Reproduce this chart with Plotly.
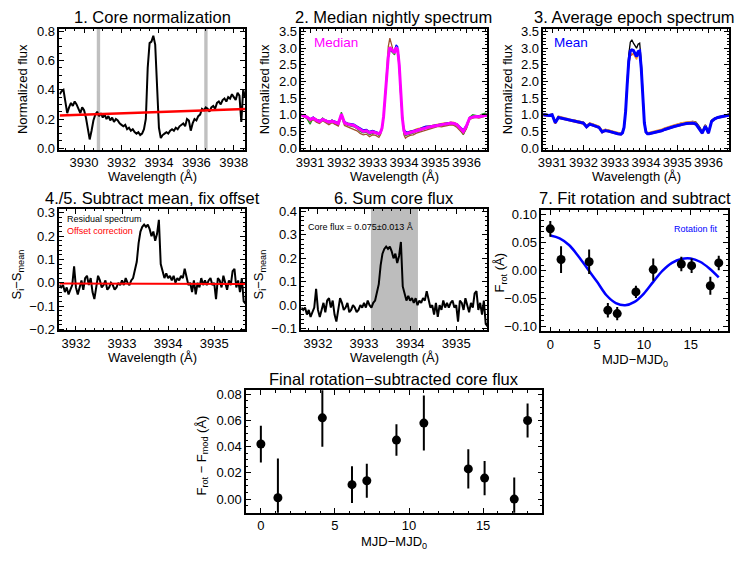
import plotly.graph_objects as go

W, H = 740, 561
FONT = "Liberation Sans, Arial, sans-serif"

# ---------------- Panel 1: core normalization ----------------
p1_wl = [3928.7, 3928.8, 3928.9, 3929.0, 3929.1, 3929.2, 3929.3, 3929.4, 3929.5, 3929.6,
         3929.7, 3929.8, 3929.9, 3930.0, 3930.1, 3930.2, 3930.3, 3930.4, 3930.5, 3930.6,
         3930.7, 3930.8, 3930.9, 3931.0, 3931.1, 3931.2, 3931.3, 3931.4, 3931.5, 3931.6,
         3931.7, 3931.8, 3931.9, 3932.0, 3932.1, 3932.2, 3932.3, 3932.4, 3932.5, 3932.6,
         3932.7, 3932.8, 3932.9, 3933.0, 3933.1, 3933.2, 3933.3, 3933.4, 3933.5, 3933.6,
         3933.7, 3933.8, 3933.9, 3934.0, 3934.1, 3934.2, 3934.3, 3934.4, 3934.5, 3934.6,
         3934.7, 3934.8, 3934.9, 3935.0, 3935.1, 3935.2, 3935.3, 3935.4, 3935.5, 3935.6,
         3935.7, 3935.8, 3935.9, 3936.0, 3936.1, 3936.2, 3936.3, 3936.4, 3936.5, 3936.6,
         3936.7, 3936.8, 3936.9, 3937.0, 3937.1, 3937.2, 3937.3, 3937.4, 3937.5, 3937.6,
         3937.7, 3937.8, 3937.9, 3938.0, 3938.1, 3938.2, 3938.3, 3938.4, 3938.5, 3938.6]
p1_flux = [0.37, 0.39, 0.40, 0.30, 0.24, 0.28, 0.31, 0.29, 0.32, 0.30,
           0.27, 0.24, 0.28, 0.26, 0.21, 0.14, 0.06, 0.12, 0.19, 0.23,
           0.25, 0.22, 0.24, 0.21, 0.23, 0.20, 0.22, 0.19, 0.21, 0.18,
           0.20, 0.19, 0.17, 0.16, 0.15, 0.16, 0.13, 0.14, 0.12, 0.13,
           0.11, 0.10, 0.11, 0.09, 0.10, 0.13, 0.20, 0.55, 0.72, 0.73,
           0.77, 0.71, 0.42, 0.14, 0.07, 0.09, 0.10, 0.11, 0.10, 0.12,
           0.13, 0.12, 0.14, 0.13, 0.15, 0.16, 0.17, 0.15, 0.20, 0.19,
           0.12, 0.17, 0.20, 0.19, 0.22, 0.23, 0.27, 0.26, 0.28, 0.27,
           0.25, 0.28, 0.29, 0.27, 0.31, 0.32, 0.30, 0.33, 0.34, 0.32,
           0.35, 0.34, 0.37, 0.35, 0.33, 0.38, 0.36, 0.18, 0.40, 0.35]
cont_wl = [3928.7, 3938.6]
cont_val = [0.224, 0.268]
norm_windows = [[3930.68, 3930.86], [3936.42, 3936.60]]

# ---------------- Panels 2 & 3: nightly / epoch spectra ----------------
ep_wl = [3930.7, 3930.8, 3930.9, 3931.0, 3931.1, 3931.2, 3931.3, 3931.4, 3931.5, 3931.6,
         3931.7, 3931.8, 3931.9, 3932.0, 3932.1, 3932.2, 3932.3, 3932.4, 3932.5, 3932.6,
         3932.7, 3932.8, 3932.9, 3933.0, 3933.1, 3933.2, 3933.25, 3933.3, 3933.35, 3933.4,
         3933.45, 3933.5, 3933.55, 3933.6, 3933.65, 3933.7, 3933.75, 3933.8, 3933.85, 3933.9,
         3933.95, 3934.0, 3934.05, 3934.1, 3934.2, 3934.3, 3934.4, 3934.5, 3934.6, 3934.7,
         3934.8, 3934.9, 3935.0, 3935.1, 3935.2, 3935.3, 3935.4, 3935.5, 3935.6, 3935.7,
         3935.8, 3935.9, 3936.0, 3936.1, 3936.2, 3936.3, 3936.4, 3936.5, 3936.6, 3936.7]

night_green = [1.03, 0.95, 0.88, 0.72, 0.92, 0.80, 0.78, 0.90, 0.80, 0.74,
               0.84, 0.72, 0.70, 1.08, 0.74, 0.68, 0.66, 0.64, 0.58, 0.50,
               0.46, 0.48, 0.40, 0.45, 0.44, 0.38, 0.44, 0.58, 0.92, 1.45,
               2.15, 2.70, 2.95, 2.88, 2.85, 2.80, 2.98, 2.92, 2.45, 1.55,
               0.85, 0.46, 0.38, 0.40, 0.42, 0.45, 0.50, 0.52, 0.55, 0.60,
               0.60, 0.62, 0.65, 0.68, 0.67, 0.70, 0.71, 0.73, 0.72, 0.66,
               0.55, 0.40, 0.62, 0.92, 1.00, 0.98, 0.96, 1.02, 1.05, 1.00]
night_brown = [0.98, 0.93, 0.90, 0.80, 0.86, 0.78, 0.74, 0.82, 0.76, 0.70,
               0.76, 0.70, 0.66, 0.95, 0.68, 0.64, 0.60, 0.58, 0.52, 0.44,
               0.40, 0.42, 0.34, 0.40, 0.38, 0.32, 0.40, 0.56, 0.98, 1.60,
               2.40, 3.05, 3.30, 3.10, 2.95, 2.88, 3.00, 2.90, 2.40, 1.50,
               0.80, 0.40, 0.30, 0.34, 0.38, 0.40, 0.45, 0.48, 0.52, 0.55,
               0.57, 0.60, 0.62, 0.65, 0.64, 0.66, 0.68, 0.70, 0.68, 0.62,
               0.52, 0.42, 0.58, 0.86, 0.90, 0.92, 0.90, 0.94, 0.96, 0.98]
night_blue = [1.02, 0.99, 0.95, 0.88, 0.93, 0.86, 0.83, 0.88, 0.85, 0.80,
              0.84, 0.80, 0.77, 1.00, 0.80, 0.75, 0.73, 0.72, 0.66, 0.60,
              0.55, 0.56, 0.50, 0.53, 0.50, 0.46, 0.49, 0.60, 0.92, 1.48,
              2.18, 2.70, 2.95, 2.93, 2.90, 2.92, 3.10, 3.05, 2.60, 1.68,
              0.95, 0.58, 0.50, 0.48, 0.50, 0.52, 0.55, 0.58, 0.62, 0.66,
              0.66, 0.68, 0.70, 0.72, 0.73, 0.75, 0.76, 0.77, 0.76, 0.72,
              0.64, 0.55, 0.70, 0.92, 0.95, 0.96, 0.95, 0.97, 0.99, 1.01]
night_orange = [1.01, 0.98, 0.95, 0.88, 0.92, 0.87, 0.83, 0.88, 0.84, 0.80,
                0.83, 0.80, 0.76, 1.00, 0.78, 0.75, 0.72, 0.70, 0.65, 0.58,
                0.53, 0.55, 0.49, 0.52, 0.49, 0.45, 0.48, 0.60, 0.95, 1.52,
                2.22, 2.78, 3.05, 2.98, 2.92, 2.85, 3.00, 2.94, 2.52, 1.62,
                0.92, 0.55, 0.46, 0.47, 0.52, 0.53, 0.58, 0.60, 0.63, 0.66,
                0.67, 0.68, 0.70, 0.73, 0.74, 0.76, 0.76, 0.78, 0.77, 0.73,
                0.63, 0.52, 0.68, 0.92, 0.95, 0.96, 0.96, 0.98, 1.00, 1.02]
night_median = [1.00, 0.97, 0.93, 0.86, 0.90, 0.84, 0.80, 0.86, 0.82, 0.78,
                0.81, 0.78, 0.74, 1.02, 0.76, 0.72, 0.70, 0.68, 0.62, 0.56,
                0.50, 0.52, 0.46, 0.49, 0.47, 0.43, 0.47, 0.60, 0.95, 1.50,
                2.20, 2.75, 3.02, 2.97, 2.92, 2.86, 3.02, 2.95, 2.50, 1.60,
                0.90, 0.52, 0.43, 0.44, 0.46, 0.48, 0.52, 0.55, 0.58, 0.62,
                0.63, 0.65, 0.67, 0.70, 0.70, 0.72, 0.73, 0.75, 0.74, 0.70,
                0.60, 0.50, 0.66, 0.90, 0.93, 0.95, 0.94, 0.96, 0.98, 1.00]

epoch_black = [1.04, 1.01, 1.00, 1.02, 0.80, 0.95, 0.93, 0.89, 0.86, 0.86,
               0.84, 0.82, 0.79, 0.78, 0.67, 0.75, 0.72, 0.69, 0.65, 0.52,
               0.56, 0.54, 0.50, 0.48, 0.45, 0.44, 0.48, 0.66, 1.20, 2.05,
               2.80, 3.18, 3.25, 3.15, 3.05, 3.00, 3.12, 3.15, 2.60, 1.50,
               0.80, 0.50, 0.45, 0.45, 0.47, 0.50, 0.53, 0.55, 0.59, 0.63,
               0.65, 0.68, 0.72, 0.74, 0.76, 0.78, 0.79, 0.80, 0.78, 0.66,
               0.50, 0.70, 0.50, 0.84, 0.90, 0.94, 0.96, 0.98, 1.00, 1.03]
epoch_orange = [1.02, 1.02, 1.00, 1.03, 0.80, 0.96, 0.93, 0.90, 0.88, 0.86,
                0.85, 0.82, 0.80, 0.78, 0.68, 0.76, 0.73, 0.70, 0.66, 0.53,
                0.57, 0.55, 0.52, 0.49, 0.46, 0.45, 0.49, 0.64, 1.12, 1.92,
                2.55, 2.82, 2.85, 2.82, 2.72, 2.66, 2.80, 2.82, 2.35, 1.40,
                0.78, 0.52, 0.47, 0.47, 0.49, 0.51, 0.55, 0.57, 0.61, 0.65,
                0.67, 0.70, 0.73, 0.75, 0.77, 0.79, 0.80, 0.80, 0.77, 0.64,
                0.49, 0.69, 0.49, 0.83, 0.90, 0.94, 0.96, 0.98, 1.00, 1.03]
epoch_red = [0.98, 0.97, 0.96, 0.98, 0.73, 0.90, 0.88, 0.84, 0.82, 0.80,
             0.79, 0.76, 0.74, 0.72, 0.61, 0.70, 0.67, 0.64, 0.60, 0.46,
             0.51, 0.49, 0.46, 0.44, 0.41, 0.40, 0.44, 0.60, 1.05, 1.85,
             2.50, 2.78, 2.80, 2.85, 2.78, 2.72, 2.85, 2.88, 2.35, 1.35,
             0.72, 0.46, 0.41, 0.41, 0.43, 0.45, 0.48, 0.50, 0.54, 0.58,
             0.60, 0.63, 0.66, 0.68, 0.70, 0.72, 0.73, 0.73, 0.70, 0.58,
             0.43, 0.64, 0.43, 0.78, 0.86, 0.90, 0.92, 0.94, 0.96, 0.98]
epoch_mean = [1.00, 0.99, 0.98, 1.00, 0.76, 0.92, 0.90, 0.86, 0.84, 0.83,
              0.81, 0.79, 0.77, 0.75, 0.64, 0.72, 0.69, 0.66, 0.62, 0.49,
              0.53, 0.51, 0.48, 0.46, 0.43, 0.42, 0.46, 0.62, 1.10, 1.90,
              2.60, 2.92, 2.95, 2.93, 2.82, 2.75, 2.90, 2.92, 2.40, 1.40,
              0.75, 0.48, 0.43, 0.43, 0.45, 0.47, 0.50, 0.52, 0.56, 0.60,
              0.62, 0.65, 0.68, 0.70, 0.72, 0.74, 0.75, 0.75, 0.72, 0.60,
              0.45, 0.66, 0.45, 0.80, 0.88, 0.92, 0.94, 0.96, 0.98, 1.00]

# ---------------- Panels 4/5 & 6: residual spectrum ----------------
res_wl = [3931.64, 3931.68, 3931.72, 3931.76, 3931.80, 3931.84, 3931.88, 3931.92, 3931.96, 3932.00,
          3932.04, 3932.08, 3932.12, 3932.16, 3932.20, 3932.24, 3932.28, 3932.32, 3932.36, 3932.40,
          3932.44, 3932.48, 3932.52, 3932.56, 3932.60, 3932.64, 3932.68, 3932.72, 3932.76, 3932.80,
          3932.84, 3932.88, 3932.92, 3932.96, 3933.00, 3933.04, 3933.08, 3933.12, 3933.16, 3933.20,
          3933.24, 3933.28, 3933.32, 3933.36, 3933.40, 3933.44, 3933.48, 3933.52, 3933.56, 3933.60,
          3933.64, 3933.68, 3933.72, 3933.76, 3933.80, 3933.84, 3933.88, 3933.92, 3933.96, 3934.00,
          3934.04, 3934.08, 3934.12, 3934.16, 3934.20, 3934.24, 3934.28, 3934.32, 3934.36, 3934.40,
          3934.44, 3934.48, 3934.52, 3934.56, 3934.60, 3934.64, 3934.68, 3934.72, 3934.76, 3934.80,
          3934.84, 3934.88, 3934.92, 3934.96, 3935.00, 3935.04, 3935.08, 3935.12, 3935.16, 3935.20,
          3935.24, 3935.28, 3935.32, 3935.36, 3935.40, 3935.44, 3935.48, 3935.52, 3935.56, 3935.60,
          3935.64, 3935.68]
res_flux = [-0.01, -0.02, -0.01, -0.04, -0.02, -0.05, -0.03, -0.01, 0.07, -0.02,
            -0.05, -0.02, 0.01, -0.03, 0.02, 0.03, -0.01, 0.02, -0.04, -0.07,
            -0.02, 0.03, 0.01, -0.02, -0.01, 0.01, -0.03, -0.02, 0.00, -0.01,
            -0.03, -0.02, 0.00, -0.01, 0.01, -0.01, 0.02, 0.00, -0.01, 0.01,
            0.02, 0.05, 0.09, 0.17, 0.22, 0.24, 0.25, 0.24, 0.25, 0.23,
            0.20, 0.22, 0.18, 0.21, 0.27, 0.08, 0.05, 0.02, 0.04, 0.02,
            0.03, 0.01, 0.03, 0.00, 0.02, 0.01, 0.03, 0.02, 0.06, 0.02,
            -0.01, 0.00, -0.04, 0.01, -0.05, 0.00, -0.02, 0.02, -0.01, 0.01,
            -0.01, 0.01, 0.02, -0.01, 0.00, -0.07, 0.02, 0.01, -0.02, 0.03,
            0.00, -0.03, 0.01, -0.01, 0.05, 0.06, -0.02, 0.01, -0.04, 0.02,
            -0.08, -0.09]
offset_wl = [3931.64, 3935.68]
offset_val = [-0.003, -0.005]
core_window = [3933.15, 3934.17]

# ---------------- Panels 7 & 8: rotation ----------------
mjd = [0.0, 1.15, 4.15, 6.15, 7.15, 9.15, 11.0, 14.0, 15.1, 17.1, 18.0]
rot_flux = [0.075, 0.020, 0.016, -0.071, -0.077, -0.038, 0.002, 0.012, 0.009, -0.027, 0.014]
rot_err = [0.014, 0.024, 0.022, 0.013, 0.012, 0.011, 0.020, 0.013, 0.013, 0.016, 0.013]
fit_x = [0, 1, 2, 3, 4, 5, 6, 7, 8, 9, 10, 11, 12, 13, 14, 15, 16, 17, 18]
fit_y = [0.063, 0.058, 0.046, 0.026, 0.003, -0.020, -0.044, -0.058, -0.062, -0.056,
         -0.041, -0.020, 0.000, 0.014, 0.021, 0.022, 0.016, 0.004, -0.012]
final_flux = [0.042, 0.001, 0.062, 0.011, 0.014, 0.045, 0.058, 0.023, 0.016, 0.000, 0.060]
final_err = [0.014, 0.030, 0.022, 0.014, 0.013, 0.012, 0.021, 0.015, 0.013, 0.0165, 0.013]

# ---------------- figure ----------------
fig = go.Figure()


def xdom(a, b):
    return [a / W, b / W]


def ydom(t, b):
    return [1 - b / H, 1 - t / H]


def line(x, y, ax, color, width, shape="linear"):
    fig.add_trace(go.Scatter(x=x, y=y, mode="lines", xaxis="x" + ax, yaxis="y" + ax,
                             line=dict(color=color, width=width, shape=shape),
                             showlegend=False, hoverinfo="skip"))


# panel 1
line(p1_wl, p1_flux, "", "black", 2)
line(cont_wl, cont_val, "", "#ff0000", 2.5)
# panel 2
for s, c in [(night_green, "#1f9a1f"), (night_brown, "#a0522d"), (night_orange, "#ffa500"),
             (night_blue, "#0000ff")]:
    line(ep_wl, s, "2", c, 1.3)
line(ep_wl, night_median, "2", "#ff00ff", 3)
# panel 3
for s, c in [(epoch_black, "black"), (epoch_red, "#d03000"), (epoch_orange, "#ffa030")]:
    line(ep_wl, s, "3", c, 1.3)
line(ep_wl, epoch_mean, "3", "#0000ff", 3)
# panel 4
line(res_wl, res_flux, "4", "black", 2)
line(offset_wl, offset_val, "4", "#ff0000", 2)
# panel 6
line(res_wl, res_flux, "5", "black", 2)
# panel 7
line(fit_x, fit_y, "6", "#0000ff", 2.5, "spline")
for ax, yv, ev in [("6", rot_flux, rot_err), ("7", final_flux, final_err)]:
    fig.add_trace(go.Scatter(x=mjd, y=yv, mode="markers", xaxis="x" + ax, yaxis="y" + ax,
                             marker=dict(color="black", size=9, line=dict(width=0)),
                             error_y=dict(type="data", array=ev, color="black", thickness=2, width=0),
                             showlegend=False, hoverinfo="skip"))

TICK = 13
AX = dict(showline=True, linecolor="black", linewidth=1.5, mirror="allticks",
          ticks="inside", ticklen=5, tickwidth=1, tickcolor="black",
          showgrid=False, zeroline=False,
          tickfont=dict(family=FONT, size=TICK, color="black"))


def minor(d):
    return dict(dtick=d, ticks="inside", ticklen=2.5, tickwidth=1, tickcolor="black", showgrid=False)


panels = [
    # suffix, xpx, ypx, xrange, yrange, xdtick, xminor, ydtick, yminor, yfmt
    ("", (54, 242), (24, 148), [3928.68, 3938.6], [-0.013, 0.82], 2, 0.5, 0.2, 0.05, ".1f"),
    ("2", (299, 487), (24, 148), [3930.72, 3936.66], [-0.06, 3.59], 1, 0.2, 0.5, 0.1, ".1f"),
    ("3", (544, 732), (24, 148), [3930.72, 3936.66], [-0.06, 3.59], 1, 0.2, 0.5, 0.1, ".1f"),
    ("4", (54, 242), (208, 332), [3931.64, 3935.67], [-0.205, 0.317], 1, 0.2, 0.1, 0.02, ".1f"),
    ("5", (299, 487), (208, 332), [3931.64, 3935.67], [-0.108, 0.411], 1, 0.2, 0.1, 0.02, ".1f"),
    ("6", (542, 731), (209, 333), [-0.95, 19.0], [-0.109, 0.109], 5, 1, 0.05, 0.01, ".2f"),
    ("7", (243, 543), (393, 518), [-1.0, 19.0], [-0.0105, 0.083], 5, 1, 0.02, 0.005, ".2f"),
]
lay = {}
for suf, xp, yp, xr, yr, xd, xm, yd, ym, yf in panels:
    lay["xaxis" + suf] = dict(AX, domain=xdom(*xp), anchor="y" + suf, range=xr, dtick=xd,
                              tick0=0, minor=minor(xm))
    lay["yaxis" + suf] = dict(AX, domain=ydom(*yp), anchor="x" + suf, range=yr, dtick=yd,
                              tick0=0, minor=minor(ym), tickformat=yf)

shapes = []
for a, b in norm_windows:
    shapes.append(dict(type="rect", xref="x", yref="y domain", x0=a, x1=b, y0=0, y1=1,
                       fillcolor="#c0c0c0", line=dict(width=0), layer="below"))
shapes.append(dict(type="rect", xref="x5", yref="y5 domain", x0=core_window[0], x1=core_window[1],
                   y0=0, y1=1, fillcolor="#bdbdbd", line=dict(width=0), layer="below"))

ann = []


def text(t, px, py, size, color="black", xanchor="center", angle=0):
    ann.append(dict(text=t, x=px / W, y=1 - py / H, xref="paper", yref="paper",
                    xanchor=xanchor, yanchor="middle", showarrow=False, textangle=angle,
                    font=dict(family=FONT, size=size, color=color)))


TITLE = 16.5
LAB = 13
# titles
text("1. Core normalization", 148, 12, TITLE)
text("2. Median nightly spectrum", 392, 12, TITLE)
text("3. Average epoch spectrum", 636, 12, TITLE)
text("4./5. Subtract mean, fix offset", 148, 197, TITLE)
text("6. Sum core flux", 393, 197, TITLE)
text("7. Fit rotation and subtract", 637, 197, TITLE)
text("Final rotation\u2212subtracted core flux", 393, 381, TITLE)
# x titles
for cx in (148, 393, 638):
    text("Wavelength (\u00c5)", cx, 175, LAB)
text("Wavelength (\u00c5)", 148, 360, LAB)
text("Wavelength (\u00c5)", 393, 360, LAB)
text("MJD\u2212MJD<sub>0</sub>", 637, 363, LAB)
text("MJD\u2212MJD<sub>0</sub>", 393, 548, LAB)
# y titles
for cx in (17, 262, 507):
    text("Normalized flux", cx, 86, LAB, angle=-90)
text("S<sub>i</sub>\u2212S<sub>mean</sub>", 12, 275, LAB, angle=-90)
text("S<sub>i</sub>\u2212S<sub>mean</sub>", 257, 275, LAB, angle=-90)
text("F<sub>rot</sub> (\u00c5)", 501, 273, LAB, angle=-90)
text("F<sub>rot</sub> \u2212 F<sub>mod</sub> (\u00c5)", 199, 460, LAB, angle=-90)
# in-panel labels
text("Median", 310, 38, 13.5, "#ff00ff", "left")
text("Mean", 553, 38, 13.5, "#0000ff", "left")
text("Residual spectrum", 60, 218, 9, "black", "left")
text("Offset correction", 60, 231, 9, "#ff0000", "left")
text("Core flux = 0.075\u00b10.013 \u00c5", 304, 226, 9, "black", "left")
text("Rotation fit", 723, 228, 9, "#0000ff", "right")

fig.update_layout(width=W, height=H, autosize=False, margin=dict(l=0, r=0, t=0, b=0),
                  paper_bgcolor="white", plot_bgcolor="white", showlegend=False,
                  font=dict(family=FONT, color="black"), shapes=shapes, annotations=ann, **lay)

fig.write_html("out.html")
